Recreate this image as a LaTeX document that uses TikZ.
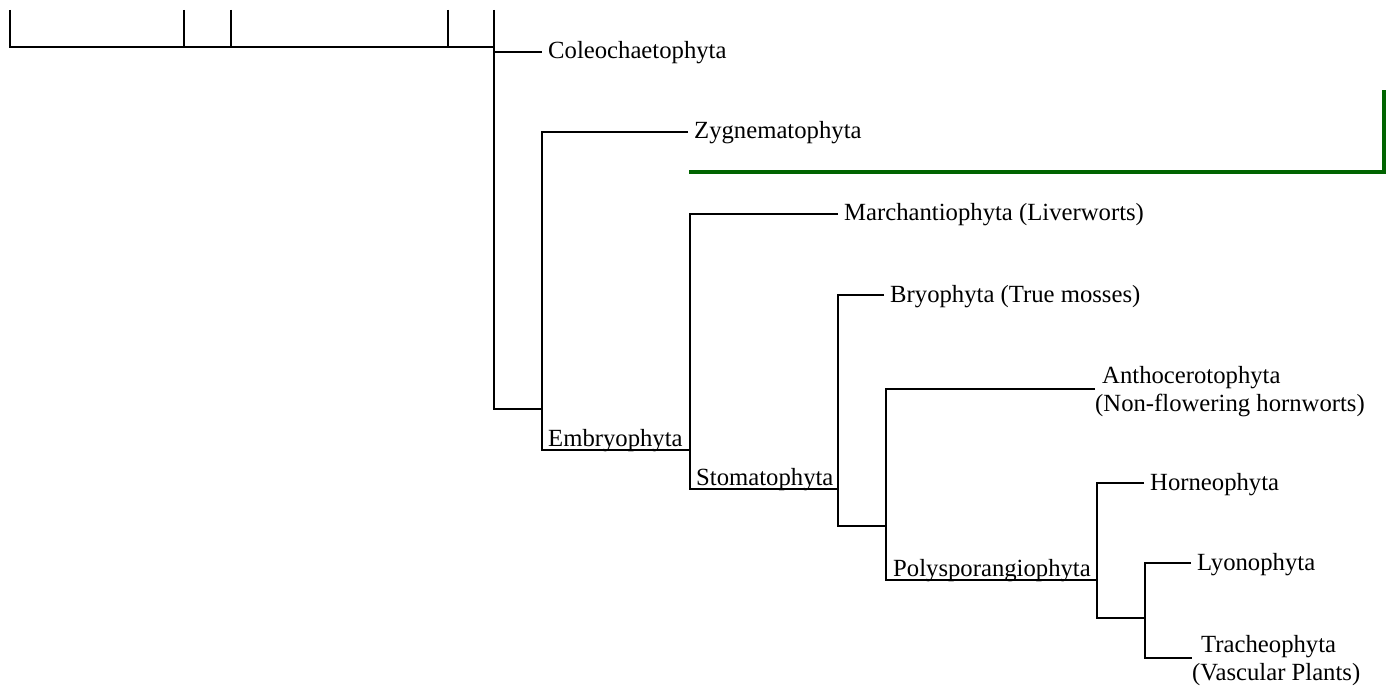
\documentclass[tikz,border=0pt]{standalone}
\usepackage{fontspec}
\setmainfont{Liberation Serif}
\usetikzlibrary{calc}
\definecolor{treegreen}{RGB}{0,100,0}
\begin{document}
\begin{tikzpicture}[x=1pt,y=-1pt,
  branch/.style={line width=2pt, line join=miter},
  greenline/.style={line width=4pt, draw=treegreen, line join=miter},
  txt/.style={font=\fontsize{24.7}{28}\selectfont},
  leaf/.style={txt, anchor=west, inner xsep=6pt, inner ysep=0pt, text height=14pt, text depth=0pt},
  clade/.style={txt, anchor=base west, inner sep=0pt},
  twoline/.style={txt, anchor=north west, inner sep=0pt, align=left}]
\useasboundingbox (0,0) rectangle (1387,687);
% cut-off part of a larger tree
\coordinate (t0) at (10,10);
\coordinate (t1) at (184,10);
\coordinate (t2) at (231,10);
\coordinate (t3) at (448,10);
\coordinate (t4) at (494,10);
\coordinate (bar) at (10,47);
% clade points
\coordinate (n2) at (542,409);
\coordinate (n3) at (690,450);
\coordinate (n4) at (838,489);
\coordinate (n5) at (886,526);
\coordinate (n6) at (1097,580);
\coordinate (n7) at (1145,618);
% leaves
\node[leaf] (cole) at (542,52) {Coleochaetophyta};
\node[leaf] (zyg) at (688,132) {Zygnematophyta};
\node[leaf] (march) at (838,214) {Marchantiophyta (Liverworts)};
\node[leaf] (bryo) at (884,295) {Bryophyta (True mosses)};
\node[twoline] (antho) at (1095,366) {\hspace*{7pt}Anthocerotophyta\\(Non-flowering hornworts)};
\node[leaf] (horneo) at (1144,483) {Horneophyta};
\node[leaf] (lyono) at (1191,563) {Lyonophyta};
\node[twoline] (trach) at (1192,635) {\hspace*{9pt}Tracheophyta\\(Vascular Plants)};
\coordinate (anthoin) at ([yshift=-23pt]antho.north west);
\coordinate (trachin) at ([yshift=-23pt]trach.north west);
% clade labels
\node[clade] (emb) at ($(n2|-n3)+(6,-4)$) {Embryophyta};
\node[clade] (stoma) at ($(n3|-n4)+(6,-4)$) {Stomatophyta};
\node[clade] (poly) at ($(n5|-n6)+(7,-4)$) {Polysporangiophyta};
% top bar
\draw[branch] (t0) |- (t4|-bar);
\foreach \t in {t1,t2,t3} \draw[branch] (\t) -- (\t|-bar);
% tree
\draw[branch] (t4) |- (n2);
\draw[branch] (t4|-cole) -- (cole);
\draw[branch] (zyg) -| (n2|-n3) -- (n3);
\draw[branch] (march) -| (n3|-n4) -- (n4);
\draw[branch] (bryo) -| (n4|-n5) -- (n5);
\draw[branch] (anthoin) -| (n5|-n6) -- (n6);
\draw[branch] (horneo) -| (n6|-n7) -- (n7);
\draw[branch] (lyono) -| (n7) |- (trachin);
% green bracket
\coordinate (g1) at (689,172);
\coordinate (g2) at (1384,90);
\draw[greenline] (g1) -| (g2);
\end{tikzpicture}
\end{document}
